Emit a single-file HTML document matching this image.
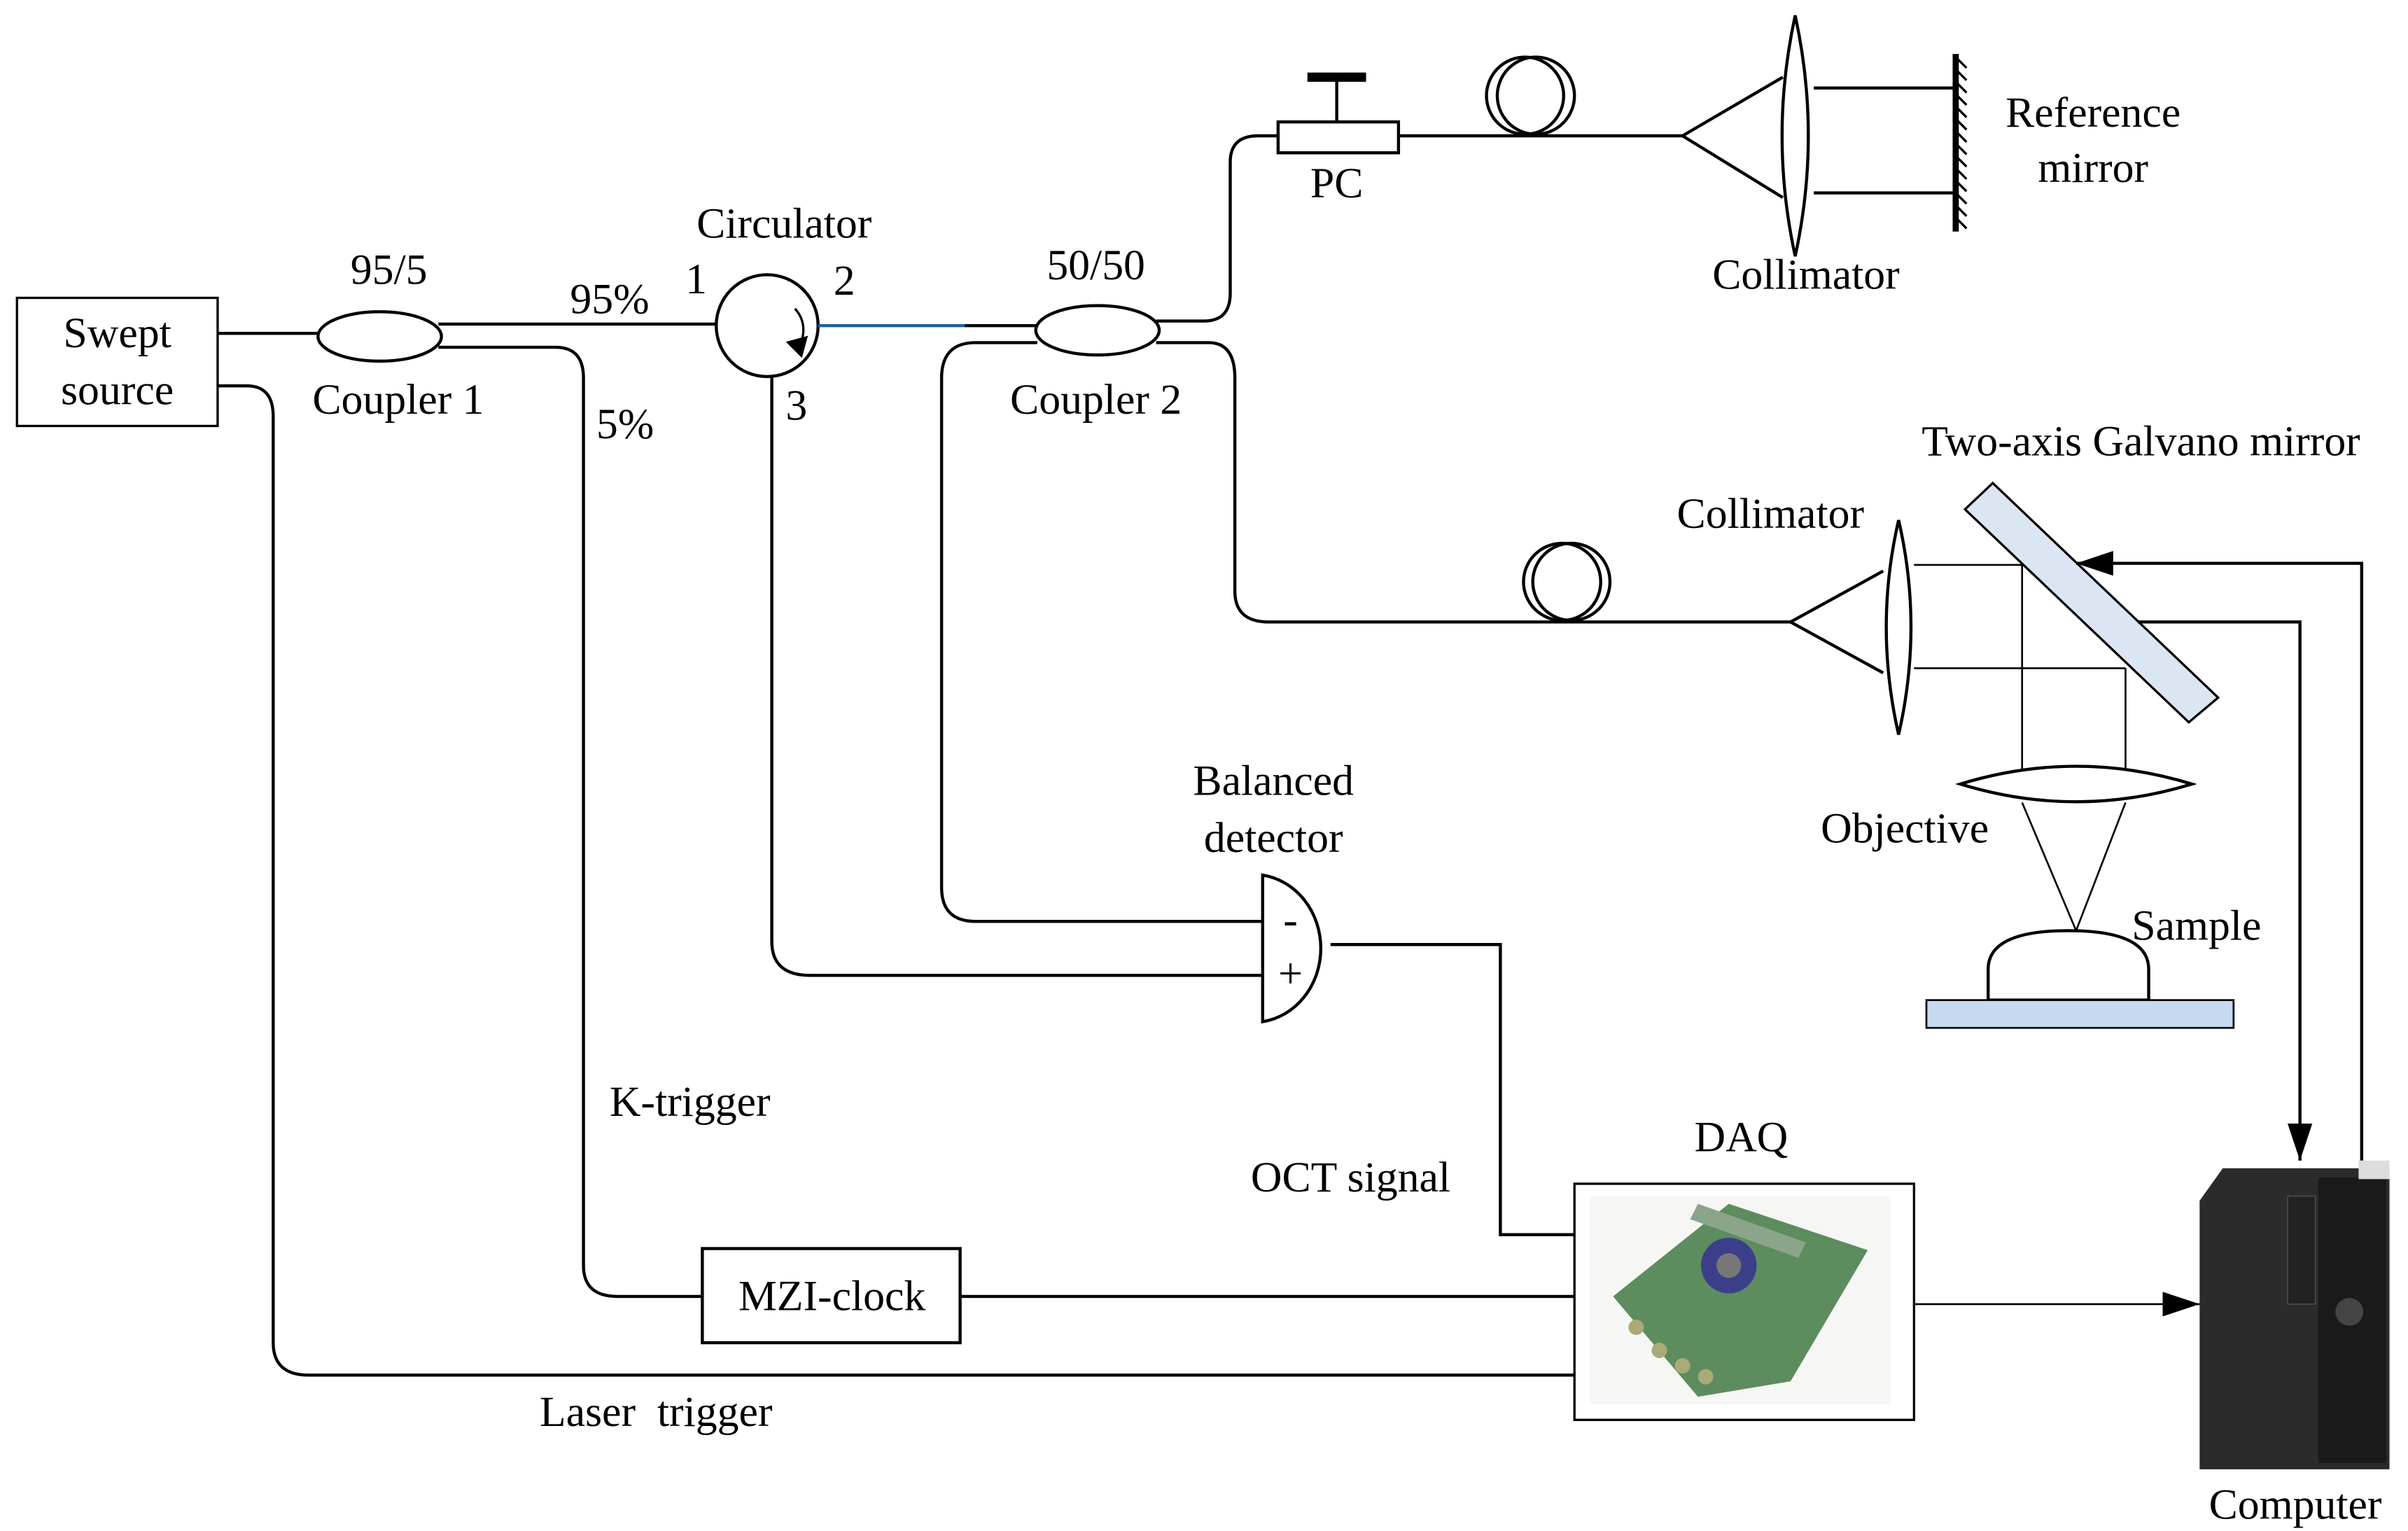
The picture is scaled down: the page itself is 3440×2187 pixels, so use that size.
<!DOCTYPE html>
<html><head><meta charset="utf-8"><style>html,body{margin:0;padding:0;background:#fff}svg{display:block}</style></head>
<body>
<svg width="3440" height="2187" viewBox="0 0 1560 992" preserveAspectRatio="none" xmlns="http://www.w3.org/2000/svg" font-family="Liberation Serif, serif" font-size="28" fill="none" stroke="#000" stroke-width="2">
<defs><marker id="ah" markerWidth="26" markerHeight="18" refX="24" refY="8" orient="auto" markerUnits="userSpaceOnUse"><path d="M0,0 L24,8 L0,16z" fill="#000" stroke="none"/></marker></defs>
<rect x="11" y="193" width="130" height="83" stroke-width="1.5"/>
<path d="M141,216 H206"/>
<path d="M141,250 H160 Q177,250 177,270 V870 Q177,891 200,891 H1020"/>
<ellipse cx="246" cy="218" rx="40" ry="16"/>
<path d="M284,210 H465"/>
<path d="M284,225 H360 Q378,225 378,245 V820 Q378,840 400,840 H455"/>
<circle cx="497" cy="211" r="33"/>
<path d="M515,200 A20,20 0 0 1 517,225" stroke-width="1.5"/>
<path d="M511,222 L519,230 L522,219z" fill="#000"/>
<path d="M530,211 H625" stroke="#1f5fa0"/>
<path d="M625,211 H672"/>
<path d="M500,244 V610 Q500,632 525,632 H818"/>
<ellipse cx="711" cy="214" rx="40" ry="16"/>
<path d="M672,222 H632 Q610,222 610,245 V575 Q610,597 632,597 H818"/>
<path d="M749,208 H780 Q797,208 797,190 V105 Q797,88 815,88 H828"/>
<rect x="828" y="79" width="78" height="20"/>
<path d="M866,79 V50" /><path d="M847,50 H885" stroke-width="6"/>
<path d="M906,88 H1090"/>
<circle cx="988" cy="62" r="25"/><circle cx="995" cy="62" r="25"/>
<path d="M1090,88 L1155,50 M1090,88 L1155,128"/>
<path d="M1163,10 Q1180,88 1163,166 Q1146,88 1163,10z" fill="#fff"/>
<path d="M1175,57 H1265 M1175,125 H1265"/>
<path d="M1267,35 V150" stroke-width="4"/>
<path d="M1268,38 l6,6 M1268,46 l6,6 M1268,54 l6,6 M1268,62 l6,6 M1268,70 l6,6 M1268,78 l6,6 M1268,86 l6,6 M1268,94 l6,6 M1268,102 l6,6 M1268,110 l6,6 M1268,118 l6,6 M1268,126 l6,6 M1268,134 l6,6 M1268,142 l6,6" stroke-width="1.5"/>
<path d="M749,222 H783 Q800,222 800,245 V383 Q800,403 822,403 H1160"/>
<circle cx="1012" cy="377" r="25"/><circle cx="1018" cy="377" r="25"/>
<path d="M1160,403 L1220,370 M1160,403 L1220,436"/>
<path d="M1230,337 Q1246,406 1230,476 Q1214,406 1230,337z" fill="#fff"/>
<path d="M1240,366 H1310 M1240,433 H1377 M1310,366 V500 M1377,433 V500" stroke-width="1.2"/>
<polygon points="1273,330 1291,313 1437,452 1418,468" fill="#dce6f2" stroke-width="1.5"/>
<path d="M1270,508 Q1345,485 1420,508 Q1345,531 1270,508z" fill="#fff"/>
<path d="M1310,520 L1345,603 L1377,520" stroke-width="1.2"/>
<path d="M1288,648 V628 Q1288,603 1340,603 Q1392,603 1392,628 V648z" fill="#fff"/>
<rect x="1248" y="648" width="199" height="18" fill="#c5d9f1" stroke-width="1.2"/>
<path d="M1530,752 V365 H1345" marker-end="url(#ah)"/>
<path d="M1385,403 H1490 V752" marker-end="url(#ah)"/>
<path d="M818,567 V662 A44,48 0 0 0 818,567z" fill="#fff"/>
<path d="M862,612 H972 V800 H1020"/>
<path d="M622,840 H1020"/>
<rect x="455" y="809" width="167" height="61"/>
<rect x="1020" y="767" width="220" height="153" stroke-width="1.5"/>
<path d="M1240,845 H1425" stroke-width="1.2" marker-end="url(#ah)"/>
<g stroke="none">
<rect x="1030" y="775" width="195" height="135" fill="#f6f6f4"/>
<polygon points="1045,840 1120,780 1210,810 1160,895 1100,905" fill="#5d8c5e"/>
<circle cx="1120" cy="820" r="18" fill="#3b3f8a"/><circle cx="1120" cy="820" r="8" fill="#777"/>
<polygon points="1100,780 1170,805 1165,815 1095,790" fill="#8aa58a"/>
<circle cx="1060" cy="860" r="5" fill="#aa7"/><circle cx="1075" cy="875" r="5" fill="#aa7"/><circle cx="1090" cy="885" r="5" fill="#aa7"/><circle cx="1105" cy="892" r="5" fill="#aa7"/>
</g>
<g stroke="none">
<polygon points="1425,778 1440,757 1548,757 1548,952 1425,952" fill="#2b2b2b"/>
<rect x="1502" y="763" width="44" height="185" fill="#1a1a1a"/>
<rect x="1528" y="752" width="20" height="12" fill="#ddd"/>
<rect x="1482" y="775" width="18" height="70" fill="#222" stroke="#555" stroke-width="0.6"/>
<circle cx="1522" cy="850" r="9" fill="#444"/>
</g>
<g fill="#000" stroke="none" text-anchor="middle">
<text x="76" y="225">Swept</text><text x="76" y="262">source</text>
<text x="252" y="184">95/5</text><text x="258" y="268">Coupler 1</text>
<text x="395" y="203">95%</text><text x="405" y="284">5%</text>
<text x="508" y="154">Circulator</text>
<text x="451" y="190">1</text><text x="547" y="191">2</text><text x="516" y="272">3</text>
<text x="710" y="181">50/50</text><text x="710" y="268">Coupler 2</text>
<text x="866" y="128">PC</text>
<text x="1356" y="82">Reference</text><text x="1356" y="118">mirror</text>
<text x="1170" y="187">Collimator</text>
<text x="1387" y="295">Two-axis Galvano mirror</text>
<text x="1147" y="342">Collimator</text>
<text x="1234" y="546">Objective</text>
<text x="1423" y="609">Sample</text>
<text x="825" y="515">Balanced</text><text x="825" y="552">detector</text>
<text x="836" y="605">-</text><text x="836" y="640">+</text>
<text x="447" y="723">K-trigger</text>
<text x="875" y="772">OCT signal</text>
<text x="1128" y="746">DAQ</text>
<text x="539" y="849">MZI-clock</text>
<text x="425" y="924" xml:space="preserve">Laser  trigger</text>
<text x="1487" y="984">Computer</text>
</g>
</svg>
</body></html>
